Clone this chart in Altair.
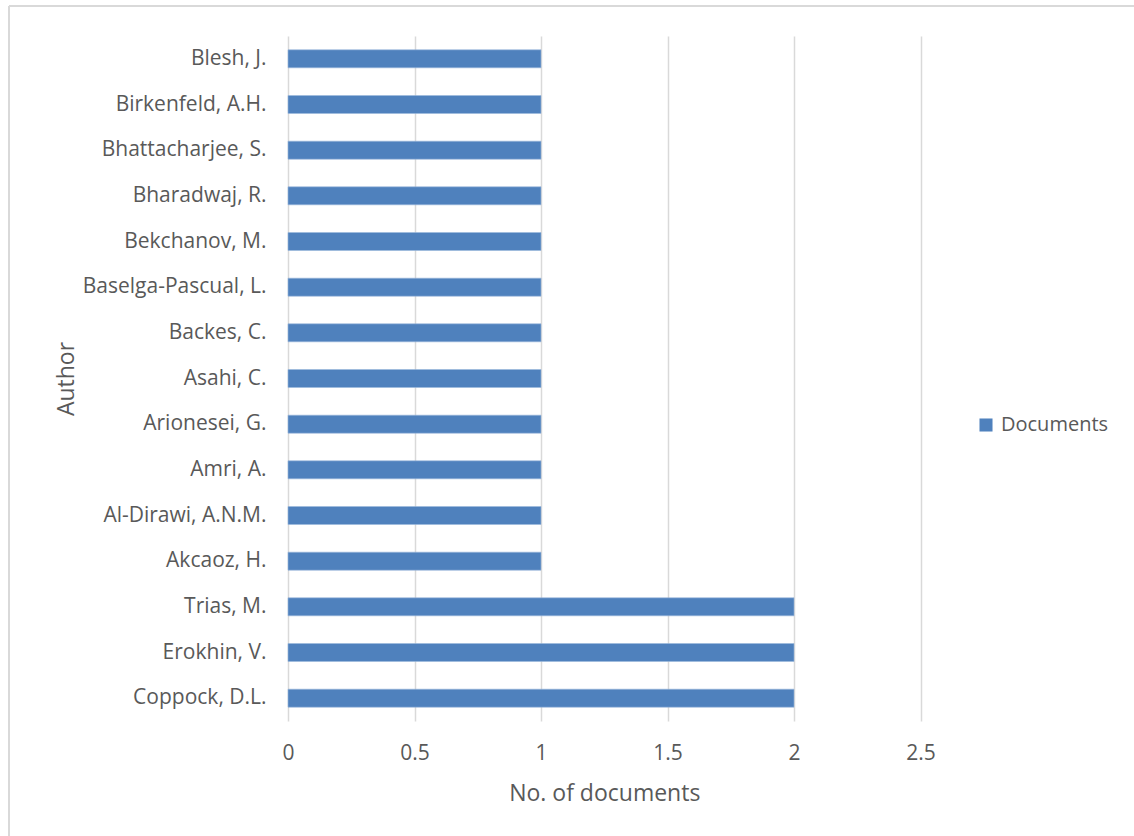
import altair as alt
import pandas as pd

# Authors listed top to bottom, with their document counts
authors = [
    "Blesh, J.", "Birkenfeld, A.H.", "Bhattacharjee, S.", "Bharadwaj, R.",
    "Bekchanov, M.", "Baselga-Pascual, L.", "Backes, C.", "Asahi, C.",
    "Arionesei, G.", "Amri, A.", "Al-Dirawi, A.N.M.", "Akcaoz, H.",
    "Trias, M.", "Erokhin, V.", "Coppock, D.L.",
]
documents = [1, 1, 1, 1, 1, 1, 1, 1, 1, 1, 1, 1, 2, 2, 2]
x_ticks = [0, 0.5, 1, 1.5, 2, 2.5]

df = pd.DataFrame({"Author": authors, "Documents": documents, "series": "Documents"})

FONT = "Open Sans"
TEXT = "#595959"
GRID = "#d9d9d9"
BLUE = "#4f81bd"

bars = alt.Chart(df).mark_bar(size=18, stroke="#9cb8dc", strokeWidth=0.6).encode(
    y=alt.Y(
        "Author:N", sort=authors, title="Author",
        axis=alt.Axis(domain=False, ticks=False, grid=False, labelPadding=22,
                      labelLimit=400, labelFontSize=21, labelColor=TEXT,
                      labelFont=FONT, titleFont=FONT, titleFontSize=23,
                      titleColor=TEXT, titleFontWeight="normal", titlePadding=10),
    ),
    x=alt.X(
        "Documents:Q", title="No. of documents",
        scale=alt.Scale(domain=[0, 2.5], nice=False),
        axis=alt.Axis(values=x_ticks, format="~g", domain=False, ticks=False,
                      grid=True, gridColor=GRID, gridWidth=1.5, labelFlush=False,
                      labelPadding=21, labelFontSize=21, labelColor=TEXT,
                      labelFont=FONT, titleFont=FONT, titleFontSize=23,
                      titleColor=TEXT, titleFontWeight="normal", titlePadding=19),
    ),
    color=alt.Color(
        "series:N", scale=alt.Scale(domain=["Documents"], range=[BLUE]),
        legend=alt.Legend(title=None, orient="none", legendX=688, legendY=379,
                          symbolType="square", symbolSize=170, symbolStrokeWidth=0,
                          labelFont=FONT, labelFontSize=20, labelColor=TEXT,
                          labelOffset=5),
    ),
)

# Light outer frame along the top and left edges of the chart
frame_top = alt.Chart(df).mark_rule(color=GRID, strokeWidth=2).encode(
    x=alt.value(-279), x2=alt.value(900), y=alt.value(-30)
)
frame_left = alt.Chart(df).mark_rule(color=GRID, strokeWidth=2).encode(
    x=alt.value(-279), y=alt.value(-30), y2=alt.value(900)
)

chart = alt.layer(frame_top, frame_left, bars).properties(
    width=632.5, height=685,
    autosize=alt.AutoSizeParams(type="none"),
    padding={"left": 288, "top": 36, "right": 213.5, "bottom": 115},
    background="white",
).configure_view(stroke=None)

chart.save("out.html", embed_options={"renderer": "svg", "actions": False})
